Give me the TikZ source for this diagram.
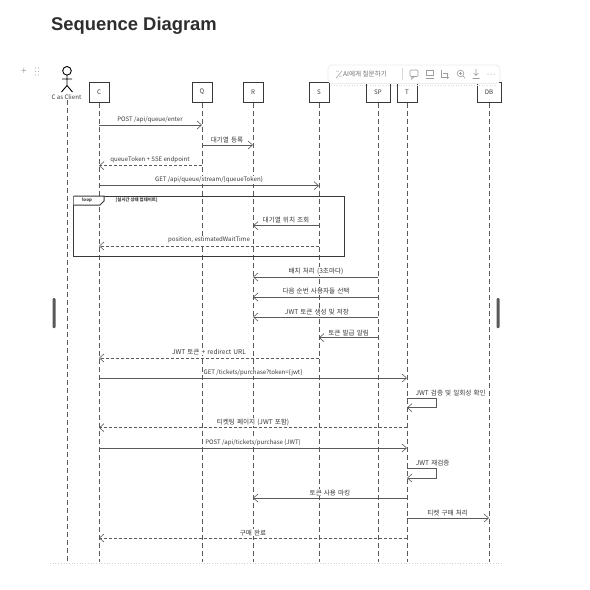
\documentclass[tikz,border=0pt]{standalone}
\usepackage{fontspec}
\setmainfont{Noto Sans CJK KR}
\newfontfamily\titlefont{Liberation Sans}
\newfontfamily\krfont[WordSpace=1.4]{Noto Sans CJK KR}
\usetikzlibrary{arrows.meta}
\definecolor{inkline}{HTML}{5A5A5A}
\definecolor{inktext}{HTML}{3A3A3A}
\tikzset{
	box/.style={draw=black!78, line width=1pt, fill=white, minimum height=20pt, inner sep=0pt, font=\fontsize{6.2}{7}\selectfont, text=inktext},
	lifeline/.style={draw=inkline, line width=1pt, dash pattern=on 5pt off 3pt},
	call/.style={draw=inkline, line width=1pt, -{Straight Barb[length=4.5pt, width=8pt, line width=0.6pt]}},
	reply/.style={call, dash pattern=on 3pt off 2pt},
	lbl/.style={font=\fontsize{6.1}{7}\selectfont, text=inktext, inner sep=0.4pt, fill=white},
	krlbl/.style={lbl, font=\krfont\fontsize{6.6}{7}\selectfont},
	tool/.style={draw=black!38, line width=0.6pt},
}
\begin{document}
\begin{tikzpicture}[x=1pt, y=-1pt]
	\useasboundingbox (0,0) rectangle (590,590);
	\fill[white] (0,0) rectangle (590,590);
	\node[anchor=base west, inner sep=0pt, text=black!82, font=\titlefont\bfseries\fontsize{18.4}{20}\selectfont] (title) at (51,30) {Sequence Diagram};
	% page handles
	\node[text=black!35, inner sep=0pt, font=\fontsize{10}{10}\selectfont] (plus) at (24,71.5) {+};
	\foreach \yy in {68,71.5,75} {
		\fill[black!30] (35.5,\yy) circle (0.6pt);
		\fill[black!30] (38.5,\yy) circle (0.6pt);
	}
	\fill[black!65, rounded corners=1pt] (52.5,298) rectangle (55.5,328);
	\fill[black!65, rounded corners=1pt] (496.5,298) rectangle (499.5,328);
	% lower edge of the image
	\draw[black!18, line width=0.7pt, dotted] (50,563.5) -- (502,563.5);
	% participants
	\node[box, minimum width=20pt] (c) at (99,92) {C};
	\node[box, minimum width=20pt] (q) at (202,92) {Q};
	\node[box, minimum width=20pt] (r) at (253,92) {R};
	\node[box, minimum width=20pt] (s) at (319,92) {S};
	\node[box, minimum width=24pt] (sp) at (378,92) {SP};
	\node[box, minimum width=20pt] (t) at (407,92) {T};
	\node[box, minimum width=24pt] (db) at (489,92) {DB};
	% actor
	\draw[black, line width=0.9pt] (67,70.8) circle (4.3pt);
	\draw[black, line width=0.9pt] (67,75.1) -- (67,85.5) (62,79) -- (72,79) (61.5,92) -- (67,85.5) -- (72.5,92);
	\node[lbl] (client) at (66.5,97) {C as Client};
	% lifelines
	\coordinate (clientend) at (67,562);
	\coordinate (cend) at (99,562);
	\coordinate (qend) at (202,562);
	\coordinate (rend) at (253,562);
	\coordinate (send) at (319,562);
	\coordinate (spend) at (378,562);
	\coordinate (tend) at (407,562);
	\coordinate (dbend) at (489,562);
	\draw[lifeline] (client.south -| clientend) -- (clientend);
	\draw[lifeline] (c) -- (cend);
	\draw[lifeline] (q) -- (qend);
	\draw[lifeline] (r) -- (rend);
	\draw[lifeline] (s) -- (send);
	\draw[lifeline] (sp) -- (spend);
	\draw[lifeline] (t) -- (tend);
	\draw[lifeline] (db) -- (dbend);
	% loop frame
	\draw[black!78, line width=1pt] (73.5,196) rectangle (344,256.5);
	\fill[white] (73.5,196) -- (104,196) -- (104,201) -- (100,205) -- (73.5,205) -- cycle;
	\draw[black!78, line width=1pt] (73.5,196) -- (104,196) -- (104,201) -- (100,205) -- (73.5,205);
	\node[lbl, font=\bfseries\fontsize{4.4}{5}\selectfont] (looptag) at (87,200.3) {loop};
	\node[lbl, font=\bfseries\fontsize{4.4}{5}\selectfont] (loopcond) at (136.7,200.3) {[실시간 상태 업데이트]};
	% messages
	\coordinate (m1a) at (99,125);
	\coordinate (m1b) at (202,125);
	\draw[call] (m1a) -- (m1b);
	\node[lbl] (m1) at (150,120) {POST /api/queue/enter};
	\coordinate (m2a) at (202,145);
	\coordinate (m2b) at (253,145);
	\draw[call] (m2a) -- (m2b);
	\node[krlbl] (m2) at (227,140) {대기열 등록};
	\coordinate (m3a) at (202,165.7);
	\coordinate (m3b) at (99,165.7);
	\draw[reply] (m3a) -- (m3b);
	\node[lbl] (m3) at (150,160) {queueToken + SSE endpoint};
	\coordinate (m4a) at (99,185.7);
	\coordinate (m4b) at (319,185.7);
	\draw[call] (m4a) -- (m4b);
	\node[lbl] (m4) at (209,180) {GET /api/queue/stream/\{queueToken\}};
	\coordinate (m5a) at (319,225.7);
	\coordinate (m5b) at (253,225.7);
	\draw[call] (m5a) -- (m5b);
	\node[krlbl] (m5) at (286,220) {대기열 위치 조회};
	\coordinate (m6a) at (319,246);
	\coordinate (m6b) at (99,246);
	\draw[reply] (m6a) -- (m6b);
	\node[lbl] (m6) at (209,240) {position, estimatedWaitTime};
	\coordinate (m7a) at (378,277);
	\coordinate (m7b) at (253,277);
	\draw[call] (m7a) -- (m7b);
	\node[krlbl] (m7) at (316,271) {배치 처리 (3초마다)};
	\coordinate (m8a) at (378,297);
	\coordinate (m8b) at (253,297);
	\draw[call] (m8a) -- (m8b);
	\node[krlbl] (m8) at (316,291) {다음 순번 사용자들 선택};
	\coordinate (m9a) at (378,317);
	\coordinate (m9b) at (253,317);
	\draw[call] (m9a) -- (m9b);
	\node[krlbl] (m9) at (317,311.7) {JWT 토큰 생성 및 저장};
	\coordinate (m10a) at (378,337.7);
	\coordinate (m10b) at (319,337.7);
	\draw[call] (m10a) -- (m10b);
	\node[krlbl] (m10) at (348.7,332.7) {토큰 발급 알림};
	\coordinate (m11a) at (319,358);
	\coordinate (m11b) at (99,358);
	\draw[reply] (m11a) -- (m11b);
	\node[krlbl] (m11) at (209,352) {JWT 토큰 + redirect URL};
	\coordinate (m12a) at (99,378);
	\coordinate (m12b) at (407,378);
	\draw[call] (m12a) -- (m12b);
	\node[lbl] (m12) at (253,372.7) {GET /tickets/purchase?token=\{jwt\}};
	\coordinate (m13a) at (407,398);
	\coordinate (m13b) at (407,407.7);
	\draw[call] (m13a) -- (436,398) -- (436,407.7) -- (m13b);
	\node[krlbl] (m13) at (450.7,393) {JWT 검증 및 일회성 확인};
	\coordinate (m14a) at (407,427.7);
	\coordinate (m14b) at (99,427.7);
	\draw[reply] (m14a) -- (m14b);
	\node[krlbl] (m14) at (253,422) {티켓팅 페이지 (JWT 포함)};
	\coordinate (m15a) at (99,448);
	\coordinate (m15b) at (407,448);
	\draw[call] (m15a) -- (m15b);
	\node[lbl] (m15) at (253,442.7) {POST /api/tickets/purchase (JWT)};
	\coordinate (m16a) at (407,468);
	\coordinate (m16b) at (407,478);
	\draw[call] (m16a) -- (436,468) -- (436,478) -- (m16b);
	\node[krlbl] (m16) at (432.7,462.7) {JWT 재검증};
	\coordinate (m17a) at (407,498);
	\coordinate (m17b) at (253,498);
	\draw[call] (m17a) -- (m17b);
	\node[krlbl] (m17) at (330,492.7) {토큰 사용 마킹};
	\coordinate (m18a) at (407,518);
	\coordinate (m18b) at (489,518);
	\draw[call] (m18a) -- (m18b);
	\node[krlbl] (m18) at (447.7,513) {티켓 구매 처리};
	\coordinate (m19a) at (407,538);
	\coordinate (m19b) at (99,538);
	\draw[reply] (m19a) -- (m19b);
	\node[krlbl] (m19) at (253,532.7) {구매 완료};
	% image toolbar
	\draw[black!7, fill=white, rounded corners=4pt, line width=0.8pt] (328,65) rectangle (500,83.5);
	\draw[black!15, line width=0.6pt, dotted] (331,85) -- (497,85);
	\node[lbl, text=black!55, fill=none, font=\fontsize{6.6}{7}\selectfont] (askai) at (365,74) {AI에게 질문하기};
	\draw[tool, line width=0.5pt] (336,78) -- (342,71) (336,71) -- (339,71) (339,76) -- (342,76);
	\draw[black!15, line width=0.5pt] (402,68) -- (402,80);
	\draw[tool, rounded corners=1pt] (410,70) rectangle (418,76.5);
	\draw[tool] (412,76.5) -- (411.5,79) -- (414.5,76.5);
	\draw[tool] (426.5,70) rectangle (433,75.5) (426,78.5) -- (433.5,78.5);
	\draw[tool] (441,69.5) -- (441,77) -- (449,77) (443,73) -- (447,73) -- (447,79);
	\draw[tool] (460.5,73.5) circle (3.3pt) (463,76) -- (465,78) (459,73.5) -- (462,73.5) (460.5,72) -- (460.5,75);
	\draw[tool] (476,69) -- (476,75) (473.5,73) -- (476,75.5) -- (478.5,73) (472.5,78.5) -- (479.5,78.5);
	\foreach \xx in {488,491,494} {
		\fill[black!50] (\xx,74) circle (0.5pt);
	}
\end{tikzpicture}
\end{document}
